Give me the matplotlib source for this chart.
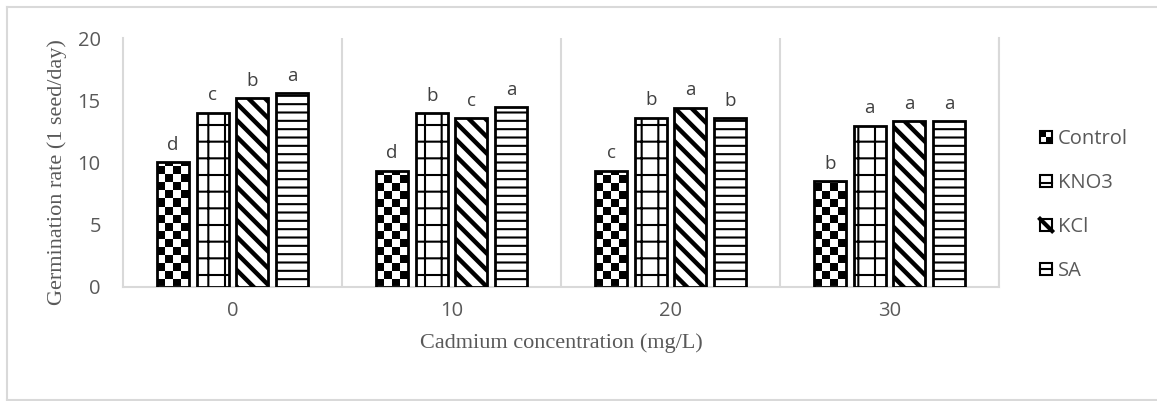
import numpy as np
import matplotlib
matplotlib.use('Agg')
import matplotlib.pyplot as plt
from matplotlib.patches import Rectangle, Patch
from matplotlib.lines import Line2D
from matplotlib.legend_handler import HandlerBase

# data
concentrations = ['0', '10', '20', '30']
treatments = ['Control', 'KNO3', 'KCl', 'SA']
control = [10.05, 9.35, 9.35, 8.5]
kno3 = [14.0, 13.95, 13.6, 12.95]
kcl = [15.15, 13.55, 14.4, 13.3]
sa = [15.55, 14.45, 13.55, 13.3]
letters_control = ['d', 'd', 'c', 'b']
letters_kno3 = ['c', 'b', 'b', 'a']
letters_kcl = ['b', 'c', 'a', 'a']
letters_sa = ['a', 'a', 'b', 'a']

series = [control, kno3, kcl, sa]
letters = [letters_control, letters_kno3, letters_kcl, letters_sa]
hatches = [None, '+', '\\\\', '--']
hatch_lw = [1.0, 1.5, 3.2, 1.5]

GREY = '#595959'
LINE = '#d9d9d9'

fig = plt.figure(figsize=(11.57, 4.01), dpi=100)
W, H = 1157, 401
ax = fig.add_axes([123 / W, 1 - 287 / H, (999 - 123) / W, (287 - 38) / H])

x = np.arange(len(concentrations))
bw = 0.146
step = 0.181

ax.set_xlim(-0.5, len(concentrations) - 0.5)
ax.set_ylim(0, 20)

all_bars = []
for i, (vals, hat) in enumerate(zip(series, hatches)):
    pos = x + (i - 1.5) * step
    with plt.rc_context({'hatch.linewidth': hatch_lw[i]}):
        bars = ax.bar(pos, vals, bw, facecolor='white' if hat else 'none',
                      edgecolor='black', linewidth=2, hatch=hat, zorder=3)
    for b in bars:
        if hasattr(b, 'set_hatch_linewidth'):
            b.set_hatch_linewidth(hatch_lw[i])
    all_bars.append(bars)
    for p, v, lab in zip(pos, vals, letters[i]):
        ax.annotate(lab, (p, v), xytext=(0, 6), textcoords='offset points',
                    ha='center', va='bottom', fontsize=13.5, color='#404040',
                    family='Open Sans')

# checkerboard for the control bars
for b in all_bars[0]:
    x0, w, h = b.get_x(), b.get_width(), b.get_height()
    p0 = ax.transData.transform((x0, 0))
    p1 = ax.transData.transform((x0 + w, h))
    wpx, hpx = p1[0] - p0[0], p1[1] - p0[1]
    cell = wpx / 4
    nrows = int(np.ceil(hpx / cell))
    img = np.indices((nrows, 4)).sum(axis=0) % 2
    top = nrows * cell * h / hpx
    im = ax.imshow(img, cmap='gray', extent=(x0, x0 + w, 0, top), origin='lower',
                   interpolation='nearest', aspect='auto', zorder=2)
    im.set_clip_path(b)

ax.set_xlim(-0.5, len(concentrations) - 0.5)
ax.set_ylim(0, 20)

ax.set_xticks(x)
ax.set_xticklabels(concentrations)
ax.set_yticks([0, 5, 10, 15, 20])
ax.set_xticks(np.arange(0.5, len(concentrations), 1), minor=True)
ax.grid(True, which='minor', axis='x', color=LINE, linewidth=1.5, zorder=0)
ax.tick_params(which='both', length=0)
ax.tick_params(axis='both', labelsize=14.5, labelcolor=GREY, labelfontfamily='Open Sans')
ax.tick_params(axis='x', pad=10)
ax.tick_params(axis='y', pad=16)

ax.spines['top'].set_visible(False)
for s in ['left', 'bottom', 'right']:
    ax.spines[s].set_color(LINE)
    ax.spines[s].set_linewidth(1.5)

ax.set_xlabel('Cadmium concentration (mg/L)', fontsize=16, color=GREY,
              family='Liberation Serif', labelpad=9)
ax.set_ylabel('Germination rate (1 seed/day)', fontsize=16, color=GREY,
              family='Liberation Serif')
ax.yaxis.set_label_coords(-0.064, 0.46)


class PatternHandler(HandlerBase):
    def __init__(self, kind):
        super().__init__()
        self.kind = kind

    def create_artists(self, legend, orig_handle, xdescent, ydescent,
                       width, height, fontsize, trans):
        s = height
        x0 = -xdescent + (width - s)
        y0 = -ydescent
        arts = [Rectangle((x0, y0), s, s, facecolor='white', edgecolor='black',
                          lw=1.5, transform=trans)]
        if self.kind == 'checker':
            arts.append(Rectangle((x0, y0 + s / 2), s / 2, s / 2, facecolor='black',
                                  edgecolor='none', transform=trans))
            arts.append(Rectangle((x0 + s / 2, y0), s / 2, s / 2, facecolor='black',
                                  edgecolor='none', transform=trans))
        elif self.kind == 'grid':
            arts.append(Line2D([x0, x0 + s], [y0 + 0.3 * s] * 2, color='black',
                               lw=1.5, transform=trans))
        elif self.kind == 'diag':
            arts.append(Line2D([x0, x0 + s], [y0 + s, y0], color='black',
                               lw=3, transform=trans))
        elif self.kind == 'hline':
            arts.append(Line2D([x0, x0 + s], [y0 + 0.5 * s] * 2, color='black',
                               lw=1.5, transform=trans))
        return arts


handles = [Patch(label=t) for t in treatments]
kinds = ['checker', 'grid', 'diag', 'hline']
leg = fig.legend(handles=handles, labels=treatments,
                 handler_map={h: PatternHandler(k) for h, k in zip(handles, kinds)},
                 loc='center left', bbox_to_anchor=(1033 / W, 1 - 205 / H),
                 frameon=False, prop={'family': 'Open Sans', 'size': 14.5},
                 labelspacing=1.2, handlelength=0.55, handleheight=0.55,
                 handletextpad=0.3, borderaxespad=0)
for t in leg.get_texts():
    t.set_color(GREY)

# outer chart border
fig.add_artist(Line2D([7 / W, 7 / W], [1 - 400 / H, 1 - 7 / H], color=LINE, lw=1.5))
fig.add_artist(Line2D([7 / W, 1], [1 - 7 / H, 1 - 7 / H], color=LINE, lw=1.5))
fig.add_artist(Line2D([7 / W, 1], [1 - 400 / H, 1 - 400 / H], color=LINE, lw=1.5))

fig.savefig('out.png', dpi=100)
